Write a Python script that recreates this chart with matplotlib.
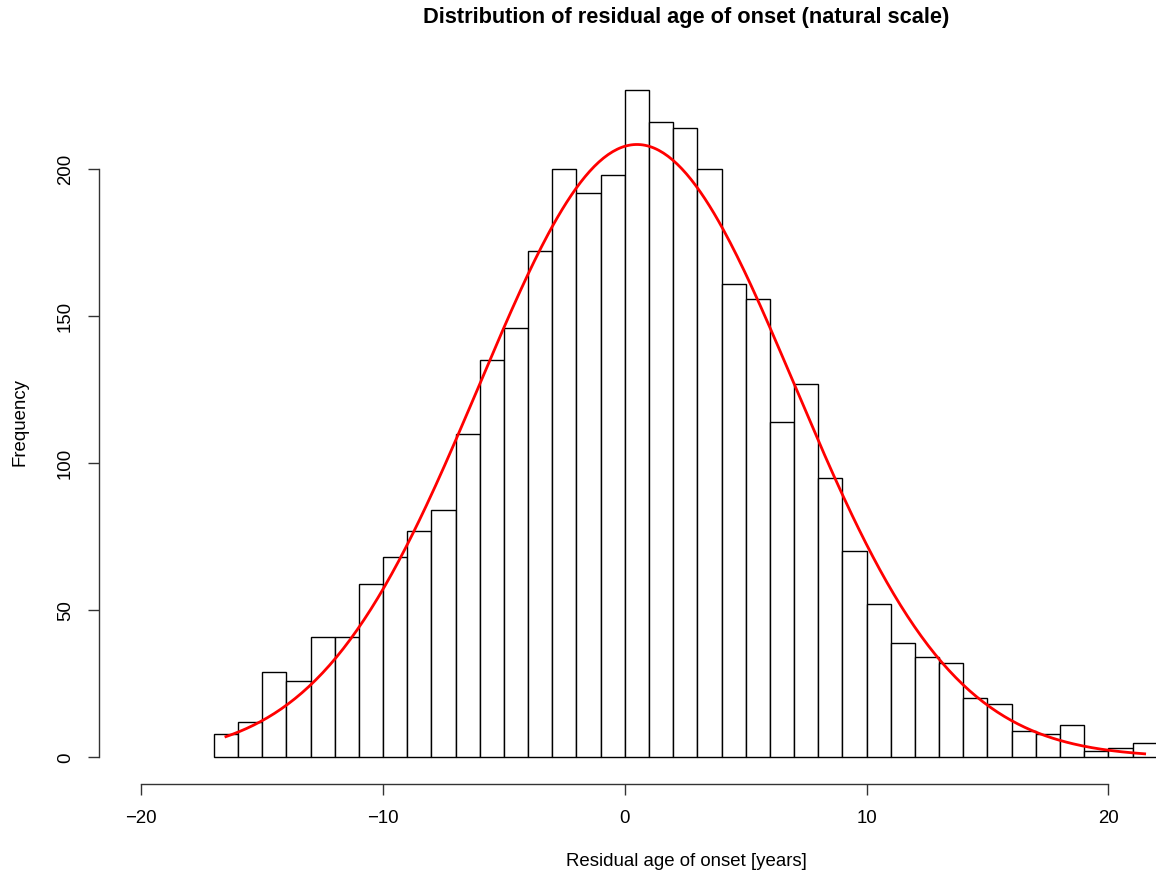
import numpy as np
import matplotlib.pyplot as plt

# histogram of residual age of onset, 1-year bins
bin_edges = list(range(-17, 23))
counts = [8, 12, 29, 26, 41, 41, 59, 68, 77, 84, 110, 135, 146, 172, 200,
          192, 198, 227, 216, 214, 200, 161, 156, 114, 127, 95, 70, 52, 39,
          34, 32, 20, 18, 9, 8, 11, 2, 3, 5]

# fitted normal curve
fit_mean = 0.5
fit_sd = 6.53
curve_from = -16.5
curve_to = 21.5

x_ticks = [-20, -10, 0, 10, 20]
y_ticks = [0, 50, 100, 150, 200]

plt.rcParams['font.family'] = ['Liberation Sans', 'DejaVu Sans']

W, H = 1156, 877
fig = plt.figure(figsize=(W / 100, H / 100), dpi=100)

# plot region in pixels (R style: axes lines at the region edges)
left_px, right_px, top_px, bottom_px = 99, 1156, 63, 784
ax = fig.add_axes([left_px / W, 1 - bottom_px / H,
                   (right_px - left_px) / W, (bottom_px - top_px) / H])

edges = np.array(bin_edges, dtype=float)
ax.bar(edges[:-1], counts, width=np.diff(edges), align='edge',
       facecolor='white', edgecolor='black', linewidth=1.0)

n_total = sum(counts)
binw = edges[1] - edges[0]
xs = np.linspace(curve_from, curve_to, 400)
dens = np.exp(-0.5 * ((xs - fit_mean) / fit_sd) ** 2) / (fit_sd * np.sqrt(2 * np.pi))
ax.plot(xs, dens * n_total * binw, color='red', linewidth=2.0)

ax.set_xlim(-21.75, 21.97)
ax.set_ylim(-9.08, 236.1)

for side in ['top', 'right']:
    ax.spines[side].set_visible(False)
ax.spines['bottom'].set_bounds(x_ticks[0], x_ticks[-1])
ax.spines['left'].set_bounds(y_ticks[0], y_ticks[-1])
for side in ['bottom', 'left']:
    ax.spines[side].set_linewidth(1.0)
    ax.spines[side].set_color('#333333')

ax.set_xticks(x_ticks)
ax.set_xticklabels(['\u221220', '\u221210', '0', '10', '20'])
ax.set_yticks(y_ticks)
ax.set_yticklabels([str(v) for v in y_ticks], rotation=90, va='center')
ax.tick_params(axis='both', length=8, width=1.0, color='#333333',
               labelsize=13.4)
ax.tick_params(axis='x', pad=11)
ax.tick_params(axis='y', pad=10)

fig.text(686 / W, 1 - 17 / H, 'Distribution of residual age of onset (natural scale)',
         ha='center', va='center', fontsize=15.7, fontweight='bold')
fig.text(686 / W, 1 - 861 / H, 'Residual age of onset [years]',
         ha='center', va='center', fontsize=13.4)
fig.text(20 / W, 1 - 422 / H, 'Frequency', ha='center', va='center',
         rotation=90, fontsize=13.4)

fig.savefig('out.png', dpi=100)
